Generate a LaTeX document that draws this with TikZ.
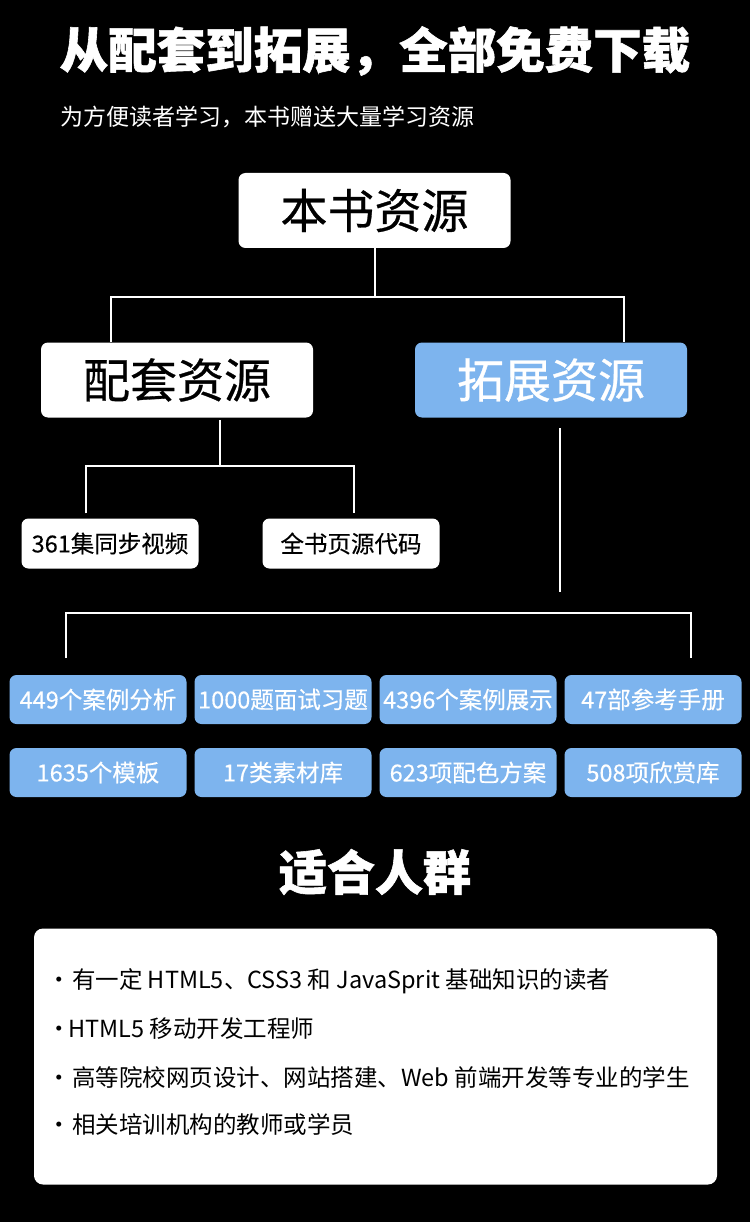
\documentclass[tikz,border=0pt]{standalone}
\usepackage{fontspec}
\setmainfont{Noto Sans CJK SC}[BoldFeatures={FakeBold=1.2}]
\newfontfamily\medfont{Noto Sans CJK SC}[FakeBold=0.6]
\newfontfamily\semifont{Noto Sans CJK SC}[FakeBold=0.3]
\definecolor{bluebox}{HTML}{7DB4EE}
\tikzset{
  x=1pt,y=-1pt,
  conn/.style={draw=white,line width=2pt},
  bigbox/.style={rounded corners=7pt,minimum width=272pt,minimum height=75pt,inner sep=0pt,font=\medfont\fontsize{47}{52}\selectfont},
  wbig/.style={bigbox,fill=white,text=black},
  bbig/.style={bigbox,fill=bluebox,text=white},
  smallw/.style={rounded corners=7pt,fill=white,text=black,minimum width=177pt,minimum height=50pt,inner sep=0pt,font=\semifont\fontsize{23.5}{27}\selectfont},
  smallb/.style={rounded corners=7pt,fill=bluebox,text=white,minimum width=177pt,minimum height=49pt,inner sep=0pt,font=\semifont\fontsize{23.5}{27}\selectfont},
  item/.style={anchor=west,inner sep=0pt,text=black,font=\fontsize{23.5}{27}\selectfont},
}
\begin{document}
\begin{tikzpicture}
\fill[black] (0,0) rectangle (750,1222);
\useasboundingbox (0,0) rectangle (750,1222);

\node[text=white,inner sep=0pt,font=\fontsize{48.5}{55}\selectfont\bfseries] (title) at (375,51) {从配套到拓展，全部免费下载};
\node[text=white,inner sep=0pt,anchor=west,font=\fontsize{23}{27}\selectfont] (sub) at (60,117) {为方便读者学习，本书赠送大量学习资源};

\node[wbig] (root) at (374.5,210.5) {本书资源};
\node[wbig] (pt) at (177,380) {配套资源};
\node[bbig] (kz) at (551,380) {拓展资源};

\coordinate (j1) at (374.5,297);
\coordinate (j1L) at (110.5,297);
\coordinate (j1R) at (624,297);
\draw[conn] (root.south) -- (j1);
\draw[conn] (j1L |- pt.north) -- (j1L) -- (j1R) -- (j1R |- kz.north);

\node[smallw] (v1) at (110,543.5) {361集同步视频};
\node[smallw] (v2) at (351,543.5) {全书页源代码};
\coordinate (p0) at (220,420);
\coordinate (p1) at (220,466);
\coordinate (p1L) at (86,466);
\coordinate (p1R) at (354,466);
\draw[conn] (p0) -- (p1);
\draw[conn] (p1L |- v1.north) ++(0,-5) -- (p1L) -- (p1R) -- ([yshift=5pt]p1R |- v2.north);

\coordinate (k0) at (560,428);
\coordinate (k1) at (560,592);
\draw[conn] (k0) -- (k1);

\node[smallb] (a1) at (98,699.5) {449个案例分析};
\node[smallb] (a2) at (283,699.5) {1000题面试习题};
\node[smallb] (a3) at (468,699.5) {4396个案例展示};
\node[smallb] (a4) at (653,699.5) {47部参考手册};
\node[smallb] (b1) at (98,772.5) {1635个模板};
\node[smallb] (b2) at (283,772.5) {17类素材库};
\node[smallb] (b3) at (468,772.5) {623项配色方案};
\node[smallb] (b4) at (653,772.5) {508项欣赏库};

\coordinate (q0) at (66,612.5);
\coordinate (q1) at (691,612.5);
\draw[conn] (66,658) -- (q0) -- (q1) -- (691,658);

\node[text=white,inner sep=0pt,font=\fontsize{48}{54}\selectfont\bfseries] (who) at (375,872) {适合人群};

\node[fill=white,rounded corners=9pt,minimum width=683pt,minimum height=256pt,inner sep=0pt] (panel) at (375.5,1056.5) {};
\node[item] (i1) at (47,981) {\makebox[25pt][l]{·}有一定 HTML5、CSS3 和 JavaSprit 基础知识的读者};
\node[item] (i2) at (47,1029) {\makebox[21pt][l]{·}HTML5 移动开发工程师};
\node[item] (i3) at (47,1077) {\makebox[25pt][l]{·}高等院校网页设计、网站搭建、Web 前端开发等专业的学生};
\node[item] (i4) at (47,1124) {\makebox[25pt][l]{·}相关培训机构的教师或学员};
\end{tikzpicture}
\end{document}
